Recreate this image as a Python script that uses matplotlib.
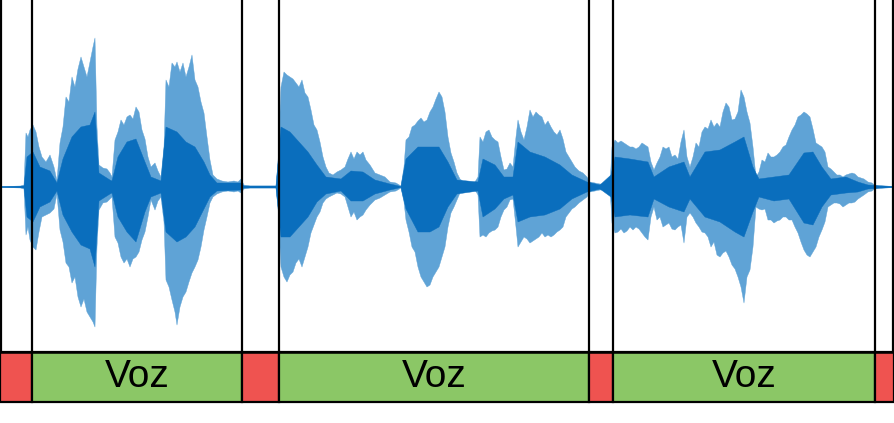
import matplotlib
matplotlib.use("Agg")
import matplotlib.pyplot as plt
from matplotlib.patches import Rectangle

plt.rcParams['font.family'] = ['Liberation Sans', 'DejaVu Sans']

# ---- waveform envelope (time in ms, amplitude in arbitrary units) ----
t_env = [0, 20, 24, 26, 28, 30, 33, 36, 39, 42, 46, 50, 54, 57, 60, 63, 66, 69, 72, 75,
         78, 81, 84, 87, 90, 93, 95, 97, 99, 103, 107, 110, 112, 115, 118, 121, 124, 127, 130, 133,
         136, 139, 142, 145, 148, 151, 155, 158, 161, 164, 166, 169, 172, 175, 177, 180, 183, 186, 189, 192,
         195, 198, 201, 204, 207, 210, 213, 217, 222, 228, 234, 238, 241, 244, 250, 260, 270, 276, 278, 281,
         284, 287, 290, 293, 296, 299, 302, 305, 308, 311, 314, 317, 320, 323, 326, 329, 333, 337, 341, 345,
         348, 351, 354, 357, 360, 363, 366, 370, 375, 380, 385, 390, 396, 401, 404, 406, 409, 412, 415, 418,
         421, 424, 427, 430, 433, 436, 439, 442, 445, 448, 451, 454, 457, 460, 465, 470, 475, 478, 480, 483,
         486, 489, 492, 495, 498, 501, 504, 507, 510, 513, 516, 518, 521, 524, 527, 530, 533, 536, 539, 542,
         545, 548, 551, 554, 557, 560, 563, 566, 569, 572, 575, 579, 583, 587, 590, 595, 600, 606, 610, 611,
         612, 615, 618, 621, 624, 627, 630, 633, 636, 639, 642, 645, 648, 651, 654, 657, 660, 663, 666, 669,
         672, 675, 678, 681, 684, 687, 690, 693, 696, 699, 702, 705, 708, 711, 714, 717, 720, 723, 726, 729,
         732, 735, 738, 741, 744, 747, 750, 753, 756, 759, 762, 765, 768, 771, 774, 777, 780, 783, 786, 789,
         792, 795, 798, 801, 804, 807, 810, 813, 816, 819, 822, 825, 828, 831, 834, 837, 840, 843, 846, 849,
         852, 855, 858, 861, 864, 868, 872, 875, 880, 894]
env_top = [0.7, 0.7, 2, 54, 50, 57, 62, 55, 40, 30, 25, 32, 20, 6, 44, 60, 90, 85, 110, 100,
           118, 130, 120, 110, 125, 140, 149, 60, 22, 19, 18, 14, 10, 47, 55, 67, 62, 70, 72, 68,
           80, 75, 57, 48, 30, 20, 24, 16, 10, 40, 107, 100, 124, 120, 125, 115, 124, 110, 120, 132,
           107, 100, 85, 74, 50, 27, 12, 8, 6, 5, 6, 5, 8, 2, 1, 1, 1, 1, 24, 100,
           115, 112, 110, 108, 104, 100, 107, 94, 90, 77, 62, 57, 45, 30, 20, 14, 12, 15, 17, 20,
           28, 35, 28, 35, 32, 35, 27, 22, 14, 12, 10, 5, 4, 1, 20, 47, 50, 60, 62, 66,
           69, 65, 67, 75, 80, 88, 95, 90, 75, 50, 34, 25, 14, 8, 4, 4, 5, 10, 50, 45,
           55, 57, 50, 47, 45, 30, 17, 18, 24, 20, 50, 67, 55, 47, 60, 77, 70, 75, 72, 70,
           62, 66, 60, 55, 52, 57, 48, 35, 30, 25, 20, 16, 14, 10, 5, 4, 3, 3, 3, 20,
           40, 47, 44, 46, 44, 42, 40, 40, 38, 40, 44, 42, 40, 25, 17, 24, 30, 40, 38, 40,
           30, 32, 28, 45, 57, 30, 20, 30, 44, 40, 55, 60, 58, 67, 60, 64, 60, 75, 84, 80,
           67, 68, 75, 97, 90, 75, 64, 40, 10, 15, 27, 25, 34, 30, 30, 32, 35, 40, 42, 50,
           57, 62, 70, 72, 75, 73, 70, 58, 44, 42, 40, 35, 20, 18, 15, 12, 12, 10, 12, 13,
           14, 13, 10, 9, 8, 5, 4, 1.5, 0.7, 0.7]
env_bot = [0.7, 0.7, 2, 48, 40, 53, 60, 63, 45, 30, 28, 26, 22, 7, 43, 55, 76, 80, 96, 90,
           110, 120, 112, 125, 130, 135, 140, 60, 23, 16, 15, 12, 10, 50, 56, 70, 76, 72, 80, 72,
           70, 65, 53, 45, 30, 13, 23, 14, 10, 35, 93, 100, 113, 125, 138, 120, 110, 105, 95, 86,
           80, 73, 60, 43, 30, 16, 10, 7, 5, 4, 5, 4, 6, 2, 1, 1, 1, 1, 20, 80,
           90, 95, 88, 85, 76, 72, 80, 70, 60, 46, 38, 30, 25, 16, 12, 10, 8, 6, 7, 10,
           20, 30, 25, 33, 30, 28, 23, 18, 13, 11, 8, 5, 4, 1, 15, 33, 45, 60, 65, 80,
           90, 95, 100, 98, 90, 85, 80, 70, 60, 40, 26, 20, 13, 6, 3, 3, 3, 8, 50, 48,
           50, 46, 44, 43, 40, 30, 23, 20, 13, 12, 40, 60, 55, 50, 52, 56, 54, 52, 50, 46,
           50, 48, 50, 48, 45, 43, 40, 30, 26, 22, 20, 16, 13, 10, 5, 4, 3, 3, 3, 18,
           36, 46, 45, 42, 46, 44, 40, 43, 40, 42, 46, 50, 53, 30, 20, 33, 30, 40, 38, 36,
           42, 43, 40, 38, 56, 30, 26, 30, 36, 40, 45, 46, 50, 60, 55, 68, 70, 66, 64, 70,
           78, 82, 90, 100, 116, 90, 83, 60, 20, 22, 23, 22, 33, 33, 36, 34, 33, 30, 30, 33,
           33, 40, 46, 55, 63, 68, 70, 65, 60, 50, 43, 35, 20, 18, 16, 16, 17, 20, 18, 16,
           16, 15, 12, 10, 8, 5, 4, 1.5, 0.7, 0.7]

# dense (darker) core of the waveform
t_core = [0, 24, 27, 33, 40, 50, 57, 63, 72, 81, 90, 95, 99, 110, 112, 118, 127, 136, 145, 151,
          161, 166, 177, 186, 195, 204, 210, 217, 241, 244, 276, 281, 290, 299, 308, 317, 326, 341, 351, 363,
          375, 390, 401, 406, 418, 430, 439, 448, 457, 478, 483, 495, 504, 513, 518, 530, 545, 560, 572, 587,
          600, 611, 615, 630, 648, 654, 669, 684, 690, 705, 720, 735, 744, 753, 759, 774, 789, 804, 813, 822,
          831, 846, 858, 868, 894]
core_top = [0.5, 1, 30, 35, 20, 16, 4, 28, 50, 60, 62, 75, 14, 7, 6, 30, 45, 48, 25, 10,
            6, 60, 55, 45, 40, 25, 12, 4, 4, 1, 1, 60, 55, 45, 35, 22, 10, 8, 16, 15,
            7, 3, 0.5, 28, 40, 40, 40, 25, 7, 5, 28, 22, 10, 10, 45, 35, 30, 22, 12, 5,
            2, 12, 30, 28, 25, 10, 20, 25, 10, 35, 37, 45, 50, 20, 8, 10, 12, 34, 35, 20,
            8, 10, 5, 2, 0.5]
core_bot = [0.5, 1, 30, 35, 20, 15, 4, 28, 45, 58, 62, 80, 14, 7, 6, 30, 45, 55, 25, 10,
            6, 45, 55, 50, 40, 22, 10, 4, 3, 1, 1, 50, 50, 40, 30, 15, 7, 4, 14, 14,
            7, 3, 0.5, 22, 45, 45, 40, 20, 7, 4, 30, 22, 12, 8, 35, 30, 28, 22, 12, 5,
            2, 10, 30, 28, 30, 12, 20, 25, 12, 30, 35, 45, 50, 25, 10, 14, 12, 36, 38, 20,
            8, 6, 5, 2, 0.5]

# ---- segmentation ----
seg_bounds = [0, 32, 242, 279, 589, 613, 875, 894]
seg_labels = ['', 'Voz', '', 'Voz', '', 'Voz', '']
seg_is_voice = [False, True, False, True, False, True, False]

W, H = 894, 423
fig = plt.figure(figsize=(W / 100, H / 100), dpi=100)
fig.patch.set_facecolor('white')

# waveform axes (top part)
ax = fig.add_axes([0, (H - 352) / H, 1, 352 / H])
ax.set_xlim(0, 894)
ax.set_ylim(-165, 187)
ax.axis('off')

light = '#5fa3d6'
dark = '#0a6ebd'
neg_bot = [-v for v in env_bot]
ax.fill_between(t_env, neg_bot, env_top, color=light, lw=0.3, edgecolor=light, zorder=2)
ax.fill_between(t_core, [-v for v in core_bot], core_top, color=dark, lw=0.3,
                edgecolor=dark, zorder=3)

for b in seg_bounds:
    xb = min(max(b, 1), 893)
    ax.axvline(xb, color='black', lw=1.6, zorder=5)

# segment bar axes
axb = fig.add_axes([0, (H - 402) / H, 1, 50 / H])
axb.set_xlim(0, 894)
axb.set_ylim(0, 1)
axb.axis('off')
for i in range(len(seg_labels)):
    x0, x1 = seg_bounds[i], seg_bounds[i + 1]
    col = '#8bc766' if seg_is_voice[i] else '#ef5350'
    axb.add_patch(Rectangle((x0, 0), x1 - x0, 1, facecolor=col, edgecolor='black', lw=1.6,
                            clip_on=False))
    if seg_labels[i]:
        axb.text((x0 + x1) / 2, 0.5, seg_labels[i], ha='center', va='center',
                 fontsize=28, color='black')
axb.axhline(1, color='black', lw=1.8)
axb.axhline(0, color='black', lw=1.8)

fig.savefig('out.png', dpi=100, facecolor='white')
